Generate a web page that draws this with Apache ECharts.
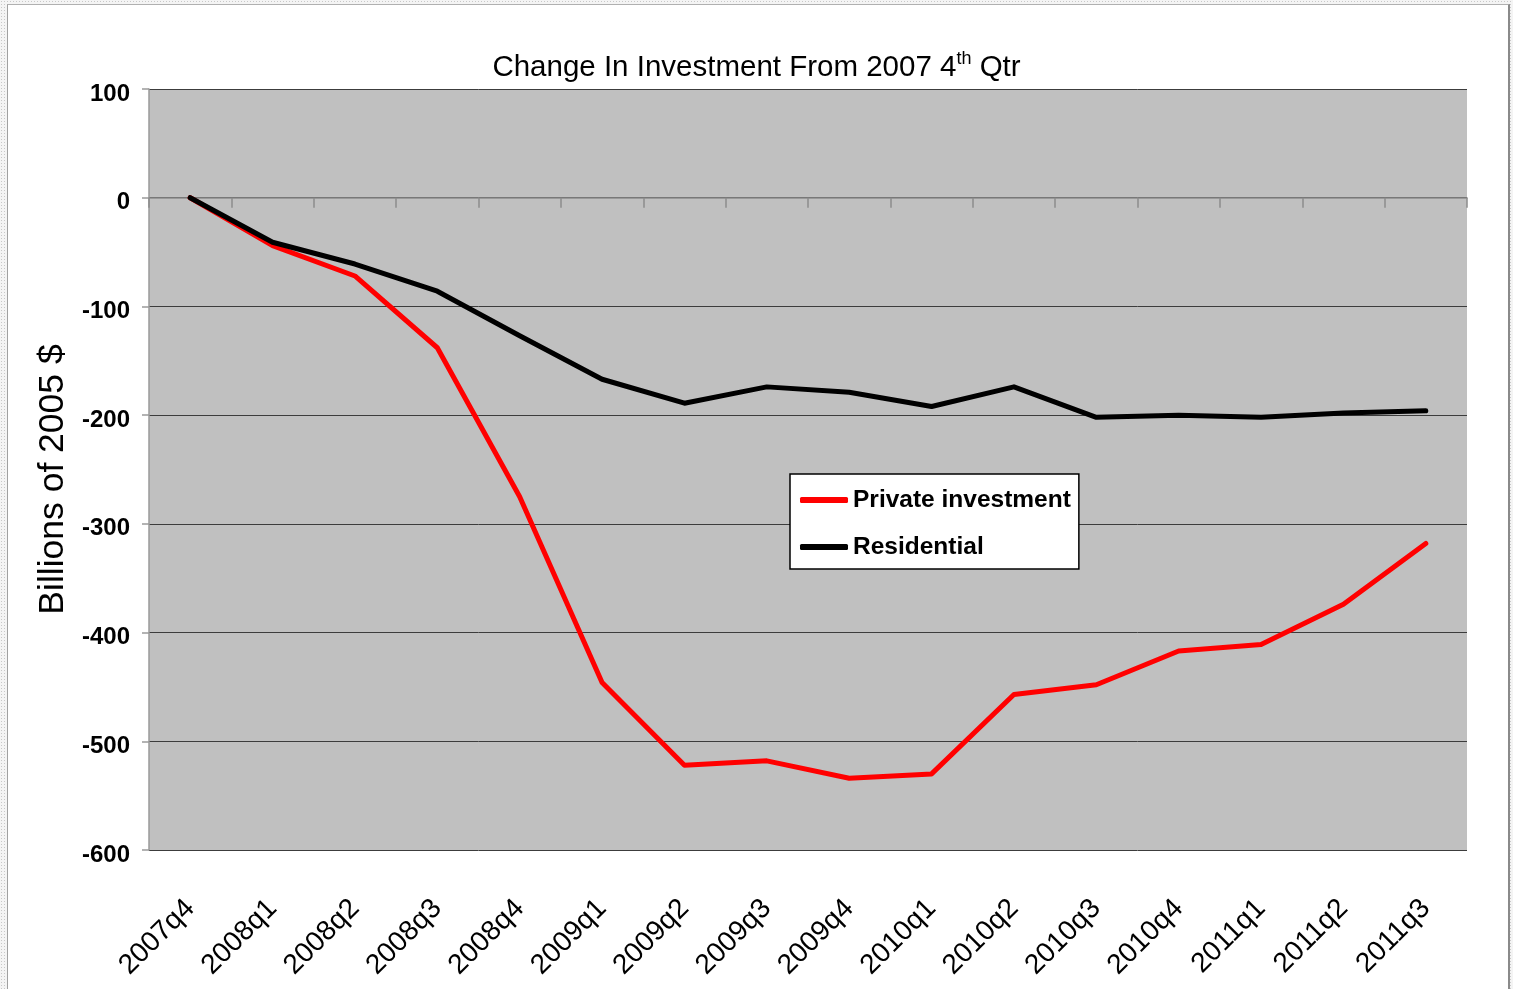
<!DOCTYPE html>
<html>
<head>
<meta charset="utf-8">
<script src="https://cdn.jsdelivr.net/npm/echarts@6/dist/echarts.min.js"></script>
<style>
  html, body { margin: 0; padding: 0; width: 1513px; height: 989px; overflow: hidden; }
  body {
    background-color: #f4f4f4;
    background-image: radial-gradient(#c8c8c8 0.8px, transparent 0.9px);
    background-size: 3px 3px;
  }
  #frame {
    position: absolute; left: 7px; top: 4px; width: 1500px; height: 1000px;
    background: #ffffff; border-left: 1px solid #a0a0a0; border-top: 1px solid #b0b0b0; border-right: 2px solid #8a8a8a;
  }
  #chart { position: absolute; left: 0; top: 0; width: 1513px; height: 989px; }
</style>
</head>
<body>
<div id="frame"></div>
<div id="chart"></div>
<script>
const categories = ['2007q4','2008q1','2008q2','2008q3','2008q4','2009q1','2009q2','2009q3','2009q4','2010q1','2010q2','2010q3','2010q4','2011q1','2011q2','2011q3'];
const privateInvestment = [0, -44, -72, -138, -275, -446, -522, -518, -534, -530, -457, -448, -417, -411, -374, -318];
const residential = [0, -41, -61, -86, -127, -167, -189, -174, -179, -192, -174, -202, -200, -202, -198, -196];
const yTicks = { min: -600, max: 100, interval: 100 };

const SANS = '"Liberation Sans", Arial, sans-serif';

const chart = echarts.init(document.getElementById('chart'), null, { renderer: 'canvas' });
chart.setOption({
  animation: false,
  backgroundColor: 'transparent',
  title: {
    text: '{a|Change In Investment From 2007 4}{s|th}{a| Qtr}',
    left: 'center',
    top: 45,
    textStyle: {
      fontWeight: 'normal',
      rich: {
        a: { fontFamily: SANS, fontSize: 29.5, fontWeight: 'normal', color: '#000', lineHeight: 36 },
        s: { fontFamily: SANS, fontSize: 18, fontWeight: 'normal', color: '#000', lineHeight: 12, verticalAlign: 'top' }
      }
    }
  },
  legend: {
    orient: 'vertical',
    left: 790,
    top: 474,
    backgroundColor: '#ffffff',
    borderColor: '#000000',
    borderWidth: 1.5,
    borderRadius: 0,
    padding: [11, 8, 7, 10],
    itemWidth: 48,
    itemHeight: 6,
    itemGap: 17,
    icon: 'roundRect',
    textStyle: { fontFamily: SANS, fontWeight: 'bold', fontSize: 24.5, color: '#000', lineHeight: 30 },
    data: ['Private investment', 'Residential']
  },
  grid: { left: 149, right: 46, top: 89, bottom: 139, show: true, backgroundColor: '#c0c0c0', borderWidth: 0 },
  xAxis: [
    {
      type: 'category',
      data: categories,
      boundaryGap: true,
      position: 'bottom',
      axisLine: { show: true, onZero: true, lineStyle: { color: '#8c8c8c', width: 1.5 } },
      axisTick: { show: true, length: 10, lineStyle: { color: '#8c8c8c', width: 1.5 } },
      axisLabel: { show: false },
      splitLine: { show: false }
    },
    {
      type: 'category',
      data: categories,
      boundaryGap: true,
      position: 'bottom',
      axisLine: { show: false, onZero: false },
      axisTick: { show: false },
      splitLine: { show: false },
      axisLabel: { show: true, interval: 0, rotate: 45, margin: 54, fontFamily: SANS, fontSize: 28, color: '#000' }
    }
  ],
  yAxis: {
    type: 'value',
    min: yTicks.min,
    max: yTicks.max,
    interval: yTicks.interval,
    name: 'Billions of 2005 $',
    nameLocation: 'middle',
    nameRotate: 90,
    nameGap: 72,
    nameTextStyle: { fontFamily: SANS, fontSize: 35.5, color: '#000', padding: [0, 20, 0, 0] },
    axisLine: { show: true, lineStyle: { color: '#9a9a9a', width: 1.5 } },
    axisTick: { show: true, length: 7, lineStyle: { color: '#9a9a9a', width: 1.5 } },
    axisLabel: { margin: 19, verticalAlign: 'top', lineHeight: 10, fontFamily: SANS, fontWeight: 'bold', fontSize: 24, color: '#000' },
    splitLine: { show: true, lineStyle: { color: '#3c3c3c', width: 1 } }
  },
  series: [
    {
      name: 'Private investment',
      type: 'line',
      xAxisIndex: 0,
      data: privateInvestment,
      symbol: 'none',
      color: '#ff0000',
      lineStyle: { color: '#ff0000', width: 5, join: 'round', cap: 'round' },
      itemStyle: { color: '#ff0000' }
    },
    {
      name: 'Residential',
      type: 'line',
      xAxisIndex: 0,
      data: residential,
      symbol: 'none',
      color: '#000000',
      lineStyle: { color: '#000000', width: 5, join: 'round', cap: 'round' },
      itemStyle: { color: '#000000' }
    }
  ]
});
</script>
</body>
</html>
